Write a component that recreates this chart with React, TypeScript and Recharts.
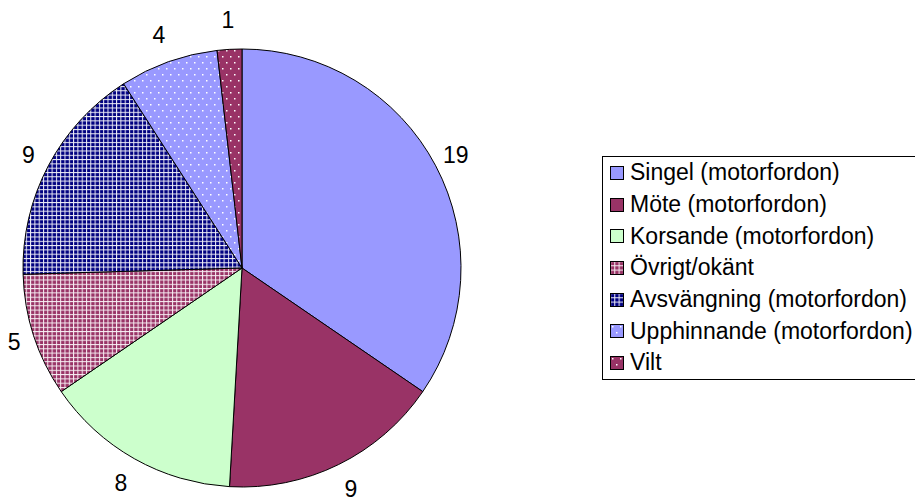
import { PieChart, Pie, Cell } from "recharts"

// Olyckstyper (antal)
const categories = [
  "Singel (motorfordon)",
  "Möte (motorfordon)",
  "Korsande (motorfordon)",
  "Övrigt/okänt",
  "Avsvängning (motorfordon)",
  "Upphinnande (motorfordon)",
  "Vilt"
]
const counts = [19, 9, 8, 5, 9, 4, 1]

const fills = [
  "#9999ff",
  "#993366",
  "#ccffcc",
  "url(#gridMaroon)",
  "url(#gridNavy)",
  "url(#dotsBlue)",
  "url(#dotsMaroon)"
]

const data = categories.map((name, i) => ({ name, value: counts[i] }))

const FONT = "'Liberation Sans', Arial, sans-serif"

if (typeof document !== "undefined") document.body.style.margin = "0"

const RAD = Math.PI / 180

const renderLabel = (props: any) => {
  const { cx, cy, midAngle, outerRadius, value } = props
  const vert = Math.abs(Math.sin(-midAngle * RAD))
  const r = outerRadius + 17 + 12 * vert
  const x = cx + r * Math.cos(-midAngle * RAD)
  const y = cy + r * Math.sin(-midAngle * RAD)
  return (
    <text x={x} y={y} textAnchor="middle" dominantBaseline="central"
      fontSize={23} fontFamily={FONT} fill="#000">
      {value}
    </text>
  )
}

// legend box runs off the right edge, like in the original
const ChartLegend = () => (
  <div style={{
    position: "absolute",
    left: 602,
    top: 156,
    border: "1px solid #000",
    background: "#fff",
    width: 360,
    boxSizing: "border-box",
    fontFamily: FONT,
    fontSize: 23,
    color: "#000"
  }}>
    {categories.map((name, i) => (
      <div key={name} style={{ display: "flex", alignItems: "center", height: 31.7, whiteSpace: "nowrap" }}>
        <svg width={14} height={14} style={{ marginLeft: 7, marginRight: 6, flex: "none" }}>
          <rect x={0.5} y={0.5} width={13} height={13} fill={fills[i]} stroke="#000" />
        </svg>
        <span>{name}</span>
      </div>
    ))}
  </div>
)

export default function App() {
  return (
    <div style={{ width: 915, height: 497, overflow: "hidden", position: "relative", background: "#fff" }}>
      <PieChart width={915} height={497} margin={{ top: 0, right: 0, bottom: 0, left: 0 }}>
        <defs>
          <pattern id="gridMaroon" patternUnits="userSpaceOnUse" width={4.3} height={4.3}>
            <rect width={4.3} height={4.3} fill="#993366" />
            <rect width={4.3} height={1} fill="#f7eef3" />
            <rect width={1} height={4.3} fill="#f7eef3" />
          </pattern>
          <pattern id="gridNavy" patternUnits="userSpaceOnUse" width={4.3} height={4.3}>
            <rect width={4.3} height={4.3} fill="#000080" />
            <rect width={4.3} height={1} fill="#eeeef7" />
            <rect width={1} height={4.3} fill="#eeeef7" />
          </pattern>
          <pattern id="dotsBlue" patternUnits="userSpaceOnUse" width={8} height={12}>
            <rect width={8} height={12} fill="#9999ff" />
            <rect x={2} y={2} width={1.5} height={1.5} fill="#ffffff" />
            <rect x={6} y={8} width={1.5} height={1.5} fill="#ffffff" />
          </pattern>
          <pattern id="dotsMaroon" patternUnits="userSpaceOnUse" width={8} height={12}>
            <rect width={8} height={12} fill="#993366" />
            <rect x={2} y={2} width={1.5} height={1.5} fill="#ffffff" />
            <rect x={6} y={8} width={1.5} height={1.5} fill="#ffffff" />
          </pattern>
        </defs>
        <Pie
          data={data}
          dataKey="value"
          nameKey="name"
          cx={242}
          cy={268}
          outerRadius={219}
          startAngle={90}
          endAngle={-270}
          stroke="#000"
          strokeWidth={1}
          label={renderLabel}
          labelLine={false}
          isAnimationActive={false}
        >
          {data.map((d, i) => (
            <Cell key={d.name} fill={fills[i]} />
          ))}
        </Pie>
      </PieChart>
      <ChartLegend />
    </div>
  )
}
